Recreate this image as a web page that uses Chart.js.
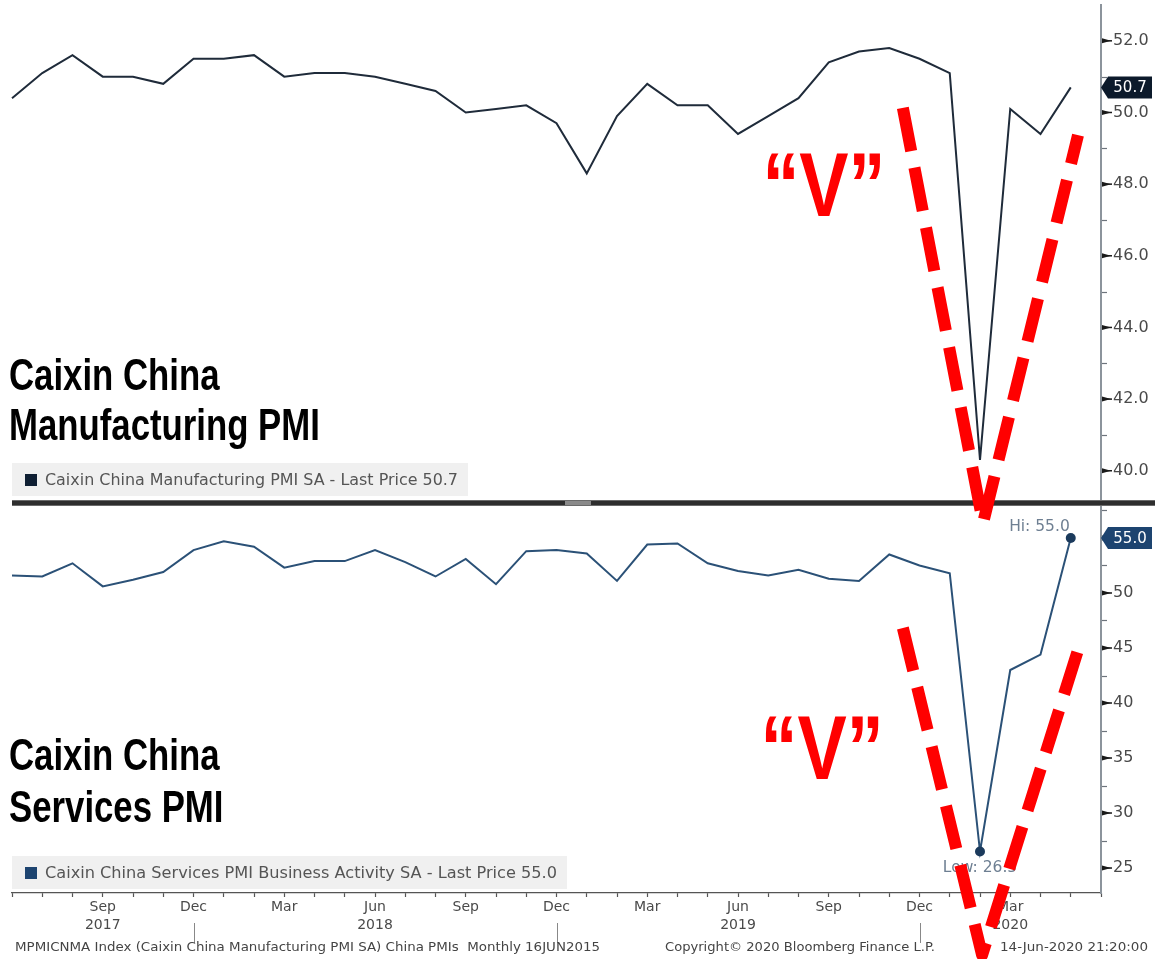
<!DOCTYPE html>
<html>
<head>
<meta charset="utf-8">
<script src="https://cdn.jsdelivr.net/npm/chart.js@4.4.1/dist/chart.umd.min.js"></script>
<style>
html,body{margin:0;padding:0;background:#fff;}
#wrap{width:1155px;height:959px;position:relative;overflow:hidden;}
canvas{display:block;}
</style>
</head>
<body>
<div id="wrap"><canvas id="c" width="1155" height="959"></canvas></div>
<script>
// ---------- DATA ----------
const monthLabels = [
  'Jun 2017','Jul 2017','Aug 2017','Sep 2017','Oct 2017','Nov 2017','Dec 2017',
  'Jan 2018','Feb 2018','Mar 2018','Apr 2018','May 2018','Jun 2018','Jul 2018','Aug 2018','Sep 2018','Oct 2018','Nov 2018','Dec 2018',
  'Jan 2019','Feb 2019','Mar 2019','Apr 2019','May 2019','Jun 2019','Jul 2019','Aug 2019','Sep 2019','Oct 2019','Nov 2019','Dec 2019',
  'Jan 2020','Feb 2020','Mar 2020','Apr 2020','May 2020','Jun 2020'
];
const mfgPMI = [50.4, 51.1, 51.6, 51.0, 51.0, 50.8, 51.5, 51.5, 51.6, 51.0, 51.1, 51.1, 51.0, 50.8, 50.6, 50.0, 50.1, 50.2, 49.7,
  48.3, 49.9, 50.8, 50.2, 50.2, 49.4, 49.9, 50.4, 51.4, 51.7, 51.8, 51.5, 51.1, 40.3, 50.1, 49.4, 50.7];
const svcPMI = [51.6, 51.5, 52.7, 50.6, 51.2, 51.9, 53.9, 54.7, 54.2, 52.3, 52.9, 52.9, 53.9, 52.8, 51.5, 53.1, 50.8, 53.8, 53.9,
  53.6, 51.1, 54.4, 54.5, 52.7, 52.0, 51.6, 52.1, 51.3, 51.1, 53.5, 52.5, 51.8, 26.5, 43.0, 44.4, 55.0];

const axisMonthLabels = ['Sep 2017','Dec 2017','Mar 2018','Jun 2018','Sep 2018','Dec 2018',
  'Mar 2019','Jun 2019','Sep 2019','Dec 2019','Mar 2020'];
const yearLabelMonths = ['Sep 2017', 'Jun 2018', 'Jun 2019', 'Mar 2020'];
const yearBoundaryMonth = 'Dec';

const mfgMajorTicks = [40, 42, 44, 46, 48, 50, 52];
const mfgMinorTicks = [41, 43, 45, 47, 49, 51];
const svcMajorTicks = [25, 30, 35, 40, 45, 50, 55];
const svcMinorTicks = [27.5, 32.5, 37.5, 42.5, 47.5, 52.5, 57.5];

const mfgRange = [39.1, 53.0];
const svcRange = [22.73, 58.18];

const mfgLegend = 'Caixin China Manufacturing PMI SA - Last Price 50.7';
const svcLegend = 'Caixin China Services PMI Business Activity SA - Last Price 55.0';
const mfgTitle = ['Caixin China', 'Manufacturing PMI'];
const svcTitle = ['Caixin China', 'Services PMI'];
const footerLeft = 'MPMICNMA Index (Caixin China Manufacturing PMI SA) China PMIs  Monthly 16JUN2015';
const footerMid = 'Copyright\u00A9 2020 Bloomberg Finance L.P.';
const footerRight = '14-Jun-2020 21:20:00';

// "V" annotations, in (month index, axis value) units
const mfgVPath = [[29.45, 50.13], [32.1, 38.54], [35.24, 49.37]];
const mfgVText = [26.84, 47.11];
const svcVPath = [[29.45, 46.82], [32.07, 17.09], [35.24, 44.82]];
const svcVText = [26.78, 33.09];

// ---------- STYLE ----------
const AX_FONT = '"DejaVu Sans", sans-serif';
const MFG_COLOR = '#1f2b3a';
const SVC_COLOR = '#2b5177';

const svcHi = svcPMI.indexOf(Math.max(...svcPMI));
const svcLo = svcPMI.indexOf(Math.min(...svcPMI));

function xTick(i) {
  const lab = monthLabels[i];
  if (axisMonthLabels.indexOf(lab) < 0) return '';
  const [mon, yr] = lab.split(' ');
  if (yearLabelMonths.indexOf(lab) >= 0) return [mon, yr];
  return [mon];
}

function fitText(c, text, x, y, targetW, font) {
  c.save();
  c.font = font;
  const w = c.measureText(text).width;
  c.translate(x, y);
  c.scale(targetW / w, 1);
  c.fillText(text, 0, 0);
  c.restore();
}

const decor = {
  id: 'decor',
  beforeDraw(chart) {
    const c = chart.ctx;
    c.save();
    c.fillStyle = '#ffffff';
    c.fillRect(0, 0, chart.width, chart.height);
    c.restore();
  },
  afterDraw(chart) {
    const c = chart.ctx;
    const xs = chart.scales.x, yM = chart.scales.yM, yS = chart.scales.yS;
    const area = chart.chartArea;

    // y-axis tick marks
    function ticks(scale, major, minor) {
      const x0 = scale.left + 1;
      c.save();
      c.fillStyle = '#1a1a1a';
      major.forEach(v => {
        const y = scale.getPixelForValue(v);
        c.beginPath();
        c.moveTo(x0, y - 2.5); c.lineTo(x0, y + 2.5); c.lineTo(x0 + 9, y); c.closePath();
        c.fill();
        c.fillRect(x0, y - 0.75, 10, 1.5);
      });
      c.strokeStyle = '#6d747c';
      c.lineWidth = 1.2;
      minor.forEach(v => {
        const y = Math.round(scale.getPixelForValue(v)) + 0.5;
        c.beginPath(); c.moveTo(x0, y); c.lineTo(x0 + 5, y); c.stroke();
      });
      c.restore();
    }
    ticks(yM, mfgMajorTicks, mfgMinorTicks);
    ticks(yS, svcMajorTicks, svcMinorTicks);

    // separator between panels
    const sepY = yM.bottom;
    c.save();
    c.fillStyle = '#6a6a6a';
    c.fillRect(area.left, sepY - 3, chart.width - area.left, 6);
    c.fillStyle = '#2e2e2e';
    c.fillRect(area.left, sepY - 2, chart.width - area.left, 4);
    c.fillStyle = '#8a8a8a';
    c.fillRect(565, sepY - 2, 26, 4);
    c.restore();

    // legends
    function legend(text, color, top, w, textW) {
      c.save();
      c.fillStyle = '#f0f0f0';
      c.fillRect(area.left, top, w, 33);
      c.fillStyle = color;
      c.fillRect(area.left + 13, top + 11, 12, 12);
      c.fillStyle = '#555555';
      c.textBaseline = 'middle';
      fitText(c, text, area.left + 33, top + 18, textW, '15px ' + AX_FONT);
      c.restore();
    }
    legend(mfgLegend, '#0f1f33', 463, 456, 413);
    legend(svcLegend, '#1d4470', 856, 555, 512);

    // panel titles
    function title(lines, baselines) {
      c.save();
      c.fillStyle = '#000';
      c.font = 'bold 44px "Liberation Sans", Arial, sans-serif';
      c.translate(9, 0);
      c.scale(0.79, 1);
      lines.forEach((t, i) => c.fillText(t, 0, baselines[i]));
      c.restore();
    }
    title(mfgTitle, [390, 440]);
    title(svcTitle, [770, 822]);

    // Hi / Low labels
    const meta = chart.getDatasetMeta(1);
    const hi = meta.data[svcHi], lo = meta.data[svcLo];
    c.save();
    c.fillStyle = '#6e7f92';
    c.font = '15.5px ' + AX_FONT;
    c.textAlign = 'right';
    c.textBaseline = 'alphabetic';
    c.fillText('Hi: ' + svcPMI[svcHi].toFixed(1), hi.x - 1, hi.y - 7);
    c.textAlign = 'center';
    c.fillText('Low: ' + svcPMI[svcLo].toFixed(1), lo.x, lo.y + 20);
    c.restore();

    // last-price boxes
    function priceBox(scale, v, fill) {
      const y = scale.getPixelForValue(v);
      const x0 = scale.left;
      c.save();
      c.fillStyle = fill;
      c.beginPath();
      c.moveTo(x0, y);
      c.lineTo(x0 + 7, y - 11);
      c.lineTo(x0 + 51, y - 11);
      c.lineTo(x0 + 51, y + 11);
      c.lineTo(x0 + 7, y + 11);
      c.closePath();
      c.fill();
      c.fillStyle = '#ffffff';
      c.font = '15px ' + AX_FONT;
      c.textAlign = 'center';
      c.textBaseline = 'middle';
      c.fillText(v.toFixed(1), x0 + 29, y + 1);
      c.restore();
    }
    priceBox(yM, mfgPMI[mfgPMI.length - 1], '#0c1a2b');
    priceBox(yS, svcPMI[svcPMI.length - 1], '#1d4470');

    // year boundary markers under "Dec"
    c.save();
    c.strokeStyle = '#888';
    c.lineWidth = 1;
    monthLabels.forEach((lab, i) => {
      if (lab.split(' ')[0] === yearBoundaryMonth) {
        const x = Math.round(xs.getPixelForValue(i)) + 0.5;
        c.beginPath(); c.moveTo(x, xs.top + 30); c.lineTo(x, xs.top + 50); c.stroke();
      }
    });
    c.restore();

    // footer
    c.save();
    c.fillStyle = '#444';
    c.textBaseline = 'middle';
    fitText(c, footerLeft, 15, 948, 585, '13px ' + AX_FONT);
    fitText(c, footerMid, 665, 948, 270, '13px ' + AX_FONT);
    fitText(c, footerRight, 1000, 948, 148, '13px ' + AX_FONT);
    c.restore();

    // red "V" annotations
    function vAnnot(scale, path, txt) {
      c.save();
      c.strokeStyle = '#ff0000';
      c.lineWidth = 12;
      c.setLineDash([44, 17]);
      c.lineJoin = 'round';
      c.beginPath();
      path.forEach((p, i) => {
        const px = xs.getPixelForValue(p[0]);
        const py = scale.getPixelForValue(p[1]);
        if (i === 0) c.moveTo(px, py); else c.lineTo(px, py);
      });
      c.stroke();
      c.setLineDash([]);
      c.fillStyle = '#ff0000';
      c.font = 'bold 90px "Liberation Sans", Arial, sans-serif';
      c.textAlign = 'center';
      c.textBaseline = 'alphabetic';
      const tx = xs.getPixelForValue(txt[0]);
      const ty = scale.getPixelForValue(txt[1]);
      c.translate(tx, ty);
      c.scale(0.82, 1);
      c.fillText('\u201CV\u201D', 0, 0);
      c.restore();
    }
    vAnnot(yM, mfgVPath, mfgVText);
    vAnnot(yS, svcVPath, svcVText);
  }
};

function noPadV(s) { s.width = 54; s.paddingTop = 0; s.paddingBottom = 0; }

const ctx = document.getElementById('c').getContext('2d');
new Chart(ctx, {
  type: 'line',
  data: {
    labels: monthLabels,
    datasets: [
      {
        label: mfgLegend, data: mfgPMI, yAxisID: 'yM',
        borderColor: MFG_COLOR, borderWidth: 2, pointRadius: 0, tension: 0
      },
      {
        label: svcLegend, data: svcPMI, yAxisID: 'yS',
        borderColor: SVC_COLOR, borderWidth: 2, tension: 0,
        pointRadius: (cx) => (cx.dataIndex === svcHi || cx.dataIndex === svcLo) ? 5 : 0,
        pointBackgroundColor: '#1b3a5c', pointBorderWidth: 0
      }
    ]
  },
  options: {
    responsive: false,
    animation: false,
    devicePixelRatio: 1,
    layout: { padding: { left: 12, top: 5, right: 0, bottom: 0 } },
    plugins: { legend: { display: false }, tooltip: { enabled: false } },
    scales: {
      x: {
        type: 'category',
        offset: false,
        grid: { drawOnChartArea: false, drawTicks: true, tickLength: 4, tickColor: '#555', tickWidth: 1.2 },
        border: { display: true, color: '#555', width: 1.2 },
        ticks: {
          autoSkip: false, maxRotation: 0, minRotation: 0, padding: 2,
          color: '#4a4a4a', font: { family: AX_FONT, size: 14, lineHeight: 1.25 },
          callback: (v, i) => xTick(i)
        },
        afterFit: (s) => { s.height = 66; s.paddingLeft = 0; s.paddingRight = 0; }
      },
      yM: {
        type: 'linear', position: 'right', stack: 'pmi', stackWeight: 498,
        min: mfgRange[0], max: mfgRange[1],
        border: { display: true, color: '#8c949c', width: 2 },
        grid: { drawOnChartArea: false, drawTicks: false },
        ticks: {
          padding: 12, color: '#4a4a4a', autoSkip: false,
          font: { family: AX_FONT, size: 16 },
          callback: (v) => mfgMajorTicks.indexOf(v) >= 0 ? v.toFixed(1) : ''
        },
        afterBuildTicks: (s) => { s.ticks = mfgMajorTicks.concat(mfgMinorTicks).sort((a, b) => a - b).map(v => ({ value: v })); },
        afterFit: noPadV
      },
      yS: {
        type: 'linear', position: 'right', stack: 'pmi', stackWeight: 390,
        min: svcRange[0], max: svcRange[1],
        border: { display: true, color: '#8c949c', width: 2 },
        grid: { drawOnChartArea: false, drawTicks: false },
        ticks: {
          padding: 12, color: '#4a4a4a', autoSkip: false,
          font: { family: AX_FONT, size: 16 },
          callback: (v) => (svcMajorTicks.indexOf(v) >= 0 && v !== svcPMI[svcPMI.length - 1]) ? String(v) : ''
        },
        afterBuildTicks: (s) => { s.ticks = svcMajorTicks.concat(svcMinorTicks).sort((a, b) => a - b).map(v => ({ value: v })); },
        afterFit: noPadV
      }
    }
  },
  plugins: [decor]
});
</script>
</body>
</html>
